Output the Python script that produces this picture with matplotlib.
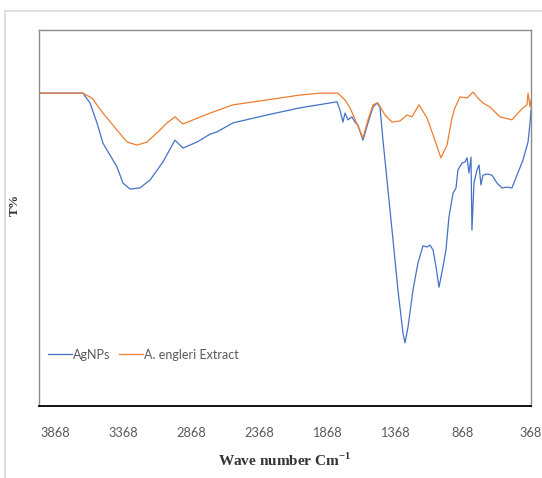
import matplotlib
matplotlib.use("Agg")
import matplotlib.pyplot as plt
from matplotlib.patches import Rectangle

# FTIR spectra (wavenumber cm-1, transmittance %)
wn_extract = [3984, 3661, 3595, 3514, 3411, 3337, 3264, 3190, 3095, 3043, 2985, 2926,
              2852, 2727, 2558, 2308, 2066, 1919, 1787, 1735, 1698, 1647, 1603, 1566,
              1529, 1493, 1441, 1390, 1331, 1279, 1243, 1191, 1132, 1088, 1030, 985,
              949, 927, 890, 838, 794, 758, 721, 669, 596, 508, 464, 427, 397, 390,
              375, 368]
t_extract = [83.2, 83.2, 81.9, 77.9, 73.4, 70.2, 69.4, 70.2, 73.4, 75.3, 76.9, 75.0,
             76.1, 77.9, 80.1, 81.4, 82.7, 83.2, 83.2, 81.4, 79.3, 75.0, 71.3, 76.1,
             80.1, 80.6, 77.4, 75.5, 75.8, 77.4, 76.9, 80.1, 76.6, 72.1, 66.0, 69.4,
             76.6, 79.3, 82.2, 81.9, 83.5, 81.9, 80.6, 79.5, 76.9, 76.1, 77.9, 79.3,
             80.1, 83.2, 79.5, 81.4]

wn_agnps = [3984, 3661, 3609, 3558, 3514, 3411, 3367, 3315, 3242, 3168, 3073, 2985,
            2926, 2823, 2727, 2676, 2558, 2308, 2066, 1794, 1772, 1750, 1735, 1713,
            1684, 1662, 1640, 1603, 1566, 1529, 1500, 1478, 1456, 1419, 1382, 1346,
            1309, 1294, 1272, 1235, 1199, 1162, 1132, 1110, 1088, 1066, 1044, 1015,
            993, 971, 941, 919, 905, 875, 853, 838, 824, 809, 802, 787, 765, 750,
            736, 721, 691, 655, 618, 581, 544, 508, 471, 427, 390, 375, 368]
t_agnps = [83.2, 83.2, 80.6, 75.3, 69.9, 63.6, 59.3, 57.7, 58.0, 60.1, 64.9, 70.7,
           68.6, 70.2, 72.3, 72.9, 75.3, 77.4, 79.3, 80.9, 78.7, 75.5, 77.9, 76.1,
           76.9, 75.5, 74.7, 70.7, 75.3, 79.5, 80.6, 79.5, 70.7, 57.4, 44.1, 30.9,
           19.4, 16.8, 21.0, 30.9, 38.0, 42.6, 42.3, 42.8, 41.5, 37.0, 31.6, 37.0,
           41.5, 50.3, 56.6, 58.0, 62.8, 64.6, 64.9, 66.0, 62.0, 66.2, 46.8, 59.3,
           62.8, 64.1, 58.8, 61.4, 61.7, 61.4, 59.3, 58.0, 58.2, 58.0, 61.4, 65.4,
           70.2, 75.3, 78.7]

xticks = [3868, 3368, 2868, 2368, 1868, 1368, 868, 368]

plt.rcParams["mathtext.fontset"] = "custom"
plt.rcParams["mathtext.rm"] = "Liberation Serif:bold"
sans = ["Lato", "DejaVu Sans"]

fig = plt.figure(figsize=(5.42, 4.78), dpi=100)
ax = fig.add_axes([39 / 542, 72 / 478, 492 / 542, 376 / 478])

# light outer frame of the pasted chart
fig.patches.append(Rectangle((5 / 542, -0.05), 2, 1.05 - 11 / 478,
                             transform=fig.transFigure, fill=False,
                             edgecolor="#d9d9d9", lw=1.2))

ax.plot(wn_agnps, t_agnps, color="#4472C4", lw=0.9, label="AgNPs")
ax.plot(wn_extract, t_extract, color="#ED7D31", lw=0.9, label="A. engleri Extract")

ax.set_xlim(3984, 368)
ax.set_ylim(0, 100)
ax.set_xticks(xticks)
ax.set_xticklabels([str(v) for v in xticks], family=sans, fontsize=9.2, color="#595959")
ax.set_yticks([])
ax.tick_params(axis="x", length=0, pad=15)

for s in ["left", "top", "right"]:
    ax.spines[s].set_color("#8c8c8c")
    ax.spines[s].set_linewidth(1.0)
ax.spines["bottom"].set_color("black")
ax.spines["bottom"].set_linewidth(1.3)

ax.set_xlabel("Wave number Cm$^{\\mathrm{-1}}$", family="Liberation Serif",
              fontweight="bold", fontsize=11, color="#333333")
ax.xaxis.set_label_coords(0.5, -0.145)
ax.xaxis.label.set_verticalalignment("center")
ax.set_ylabel("T%", family="Liberation Serif", fontweight="bold", fontsize=9.5,
              color="#333333")
ax.yaxis.set_label_coords(-0.049, 0.535)
ax.yaxis.label.set_verticalalignment("center")

leg = ax.legend(loc="center left", bbox_to_anchor=(0.0, 0.136), ncol=2, frameon=False,
                prop={"family": sans, "size": 9}, handlelength=1.9,
                handletextpad=0.1, columnspacing=0.7, borderaxespad=0.3)
for t in leg.get_texts():
    t.set_color("#595959")

fig.savefig("out.png", dpi=100)
